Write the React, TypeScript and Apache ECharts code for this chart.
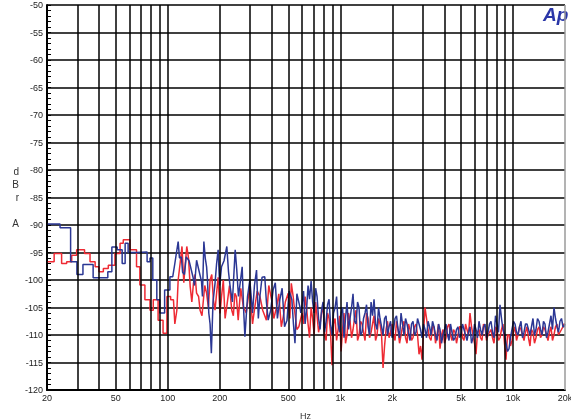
import React, { useEffect, useRef } from "react";
import * as echarts from "echarts";

// ---- axis definitions ----
const yMin = -120;
const yMax = -50;
const yStep = 5;
const gridFreqs = [20, 30, 40, 50, 60, 70, 80, 90, 100, 200, 300, 400, 500, 600, 700, 800, 900, 1000, 2000, 3000, 4000, 5000, 6000, 7000, 8000, 9000, 10000, 20000];
const labelFreqs = [20, 50, 100, 200, 500, 1000, 2000, 5000, 10000, 20000];
const labelTexts = ["20", "50", "100", "200", "500", "1k", "2k", "5k", "10k", "20k"];

// ---- low / mid-frequency parts (Hz, dBr A) ----
const redLow: [number, number][] = [
  [20, -96.7], [22, -96.7], [22, -95.2], [24.3, -95.2], [24.3, -97], [26, -97], [26, -96.7], [27.8, -96.7],
  [27.8, -95.5], [29.7, -95.5], [29.7, -94.5], [33, -94.5], [33, -95.2], [35.5, -95.2], [35.5, -96.7], [38, -96.7],
  [38, -97.6], [40, -97.6], [40, -98.5], [42.4, -98.5], [42.4, -97.9], [45.3, -97.9], [45.3, -97.3], [49.5, -97.3],
  [49.5, -95.2], [53, -95.2], [53, -93.3], [55.3, -93.3], [55.3, -92.7], [60.5, -92.7], [60.5, -94.5], [66, -94.5],
  [66, -97.6], [69, -97.6], [69, -100.9], [73.8, -100.9], [73.8, -103.6], [79, -103.6], [79, -105.5], [82.5, -105.5],
  [82.5, -103.6], [88, -103.6], [88, -107.3], [94, -107.3], [94, -109.7], [99, -109.7], [99, -103], [104, -103],
  [104, -103.6], [108, -103.6]
];
const redMid: [number, number][] = [
  [110, -108], [113, -105.5], [115, -100], [118, -97], [121, -93.9], [124, -100.5], [126, -97.6], [129, -93.9],
  [132, -96], [135, -101.2], [138, -104], [141, -100.6], [144, -99], [147, -102.4], [151, -103], [154, -105.5],
  [158, -106.5], [161, -103.6], [164, -101], [168, -102.4], [172, -105], [176, -100], [180, -99], [184, -103.6],
  [188, -105.5], [192, -102.4], [196, -99.5], [201, -106.1], [205, -103], [210, -100], [215, -107], [220, -104.8],
  [228, -101], [235, -105.5], [240, -106.5], [245, -102.4], [250, -103], [256, -107.3], [265, -101.5], [274, -104.8],
  [285, -106], [292, -103.5], [299, -101.2], [310, -108], [320, -104.8], [330, -102], [342, -103], [355, -105.5],
  [373, -107.3], [385, -101], [400, -103.6], [412, -107], [428, -104.8], [440, -102.5], [455, -108.5], [467, -106.7],
  [480, -104], [499, -102.4], [510, -107], [520, -100.6], [533, -103], [546, -106.1], [560, -109], [575, -108.5]
];

const blueLow: [number, number][] = [
  [20, -89.8], [23.8, -89.8], [23.8, -90.5], [27.4, -90.5], [27.4, -96.7], [29.8, -96.7], [29.8, -99], [32.3, -99],
  [32.3, -97.2], [37, -97.2], [37, -99.6], [45, -99.6], [45, -98.5], [47.5, -98.5], [47.5, -94], [51, -94],
  [51, -94.5], [54.5, -94.5], [54.5, -97], [56.7, -97], [56.7, -93.3], [59, -93.3], [59, -95], [66, -95],
  [66, -94.9], [76, -94.9], [76, -96.7], [79, -96.7], [79, -96], [82, -96], [82, -100], [86.5, -100],
  [86.5, -103.6], [90, -103.6], [90, -106], [96, -106], [96, -101.8], [103, -101.8], [103, -99.4], [107, -99.4]
];
const blueMid: [number, number][] = [
  [110, -97], [115, -93], [117, -96], [120, -95.8], [122, -98.6], [125, -99], [128, -95.8], [133, -96.5],
  [140, -99.4], [143, -101], [147, -96.4], [151, -98], [157, -100.3], [159, -103], [162, -93], [165, -96],
  [168, -97.6], [170, -100], [173, -106], [176, -108], [179, -113.3], [183, -104], [188, -100.6], [192, -97],
  [196, -94.5], [200, -101], [205, -97.6], [212, -96.5], [220, -93.9], [225, -98.5], [230, -101.2], [237, -104],
  [246, -94.5], [251, -98], [257, -103], [263, -100.5], [270, -97.6], [275, -105], [280, -110.3], [290, -103],
  [299, -100], [310, -106], [318, -101], [327, -98.2], [335, -107], [342, -103], [352, -99.5], [365, -99.4],
  [373, -104], [382, -107.3], [395, -105.5], [408, -101.8], [420, -100.5], [432, -107], [446, -103.6], [460, -101.5],
  [475, -108.5], [491, -107.3], [505, -102], [524, -103.6], [535, -108], [546, -111.5], [560, -102.5], [583, -104.9],
  [590, -106]
];

// ---- high-frequency part (two interleaved sets of bins) ----
const hiFreqsA = [
  600, 625, 650, 677, 705, 733, 763, 794, 827, 860, 895, 932, 970, 1010, 1050, 1093, 1138, 1184, 1233, 1283,
  1335, 1390, 1447, 1506, 1567, 1631, 1697, 1767, 1839, 1914, 1992, 2073, 2158, 2246, 2337, 2433, 2532, 2635,
  2743, 2855, 2971, 3093, 3219, 3350, 3487, 3629, 3777, 3931, 4092, 4259, 4432, 4613, 4801, 4997, 5201, 5413,
  5634, 5864, 6104, 6353, 6612, 6882, 7163, 7455, 7759, 8076, 8405, 8748, 9105, 9477, 9863, 10266, 10685, 11121,
  11575, 12047, 12539, 13050, 13583, 14137, 14714, 15314, 15939, 16590, 17266, 17971, 18704, 19467, 20000
];
const hiFreqsB = [
  612, 637, 663, 691, 719, 748, 778, 810, 843, 877, 913, 951, 990, 1030, 1071, 1115, 1161, 1208, 1258, 1309,
  1362, 1418, 1476, 1536, 1599, 1664, 1732, 1803, 1876, 1953, 2032, 2115, 2202, 2291, 2385, 2482, 2583, 2689,
  2799, 2913, 3032, 3156, 3284, 3418, 3558, 3703, 3854, 4011, 4175, 4345, 4522, 4707, 4899, 5099, 5307, 5523,
  5749, 5983, 6227, 6482, 6746, 7022, 7308, 7606, 7916, 8239, 8575, 8925, 9290, 9669, 10063, 10474, 10902, 11347,
  11810, 12292, 12794, 13315, 13859, 14424, 15012, 15625, 16262, 16926, 17617, 18335, 19083, 19733
];

const blueHiA = [
  -104.5, -108, -101, -100.2, -106, -103, -109, -104, -107.5, -103.5, -110, -105, -108, -106, -110.5, -104, -107, -102.5, -108, -105,
  -109.5, -106, -108.5, -104, -103.5, -109, -107, -110, -106.5, -108.5, -110.5, -107, -109, -106, -110, -108, -111, -107.5,
  -109.5, -108, -110.5, -109, -107.5, -110, -108.5, -111, -109, -110, -108, -111, -109.5, -110.5, -108.5, -110, -109, -111,
  -108.5, -110.5, -109, -107.5, -110, -108, -109.5, -107.5, -110.5, -108, -104.5, -109, -111.5, -112.5, -109, -108, -110, -107.5,
  -109.5, -108, -110, -107, -109, -107.5, -110, -108, -109.5, -106.5, -105, -108.5, -107.5, -108.5, -108
];
const blueHiB = [
  -102, -105.5, -103.5, -104, -101.5, -107, -105.5, -109.5, -104.5, -108, -106, -103, -109.5, -105, -107, -109, -105, -107.5, -104, -110,
  -107, -104.5, -110, -106.5, -108, -105, -108.5, -107, -110, -107.5, -109, -106.5, -110.5, -108, -107, -109.5, -108, -110,
  -107, -109, -108, -110.5, -108.5, -107.5, -110, -108, -111.5, -109, -110, -108, -111, -109, -110.5, -108, -110, -109.5,
  -111.5, -108, -110.5, -109, -108.5, -110.5, -108, -109.5, -106.5, -109.5, -107, -110, -113, -110.5, -107.5, -109.5, -108.5, -110.5,
  -108, -109, -108.5, -110, -107, -109, -107.5, -110.5, -108, -109, -107, -109.5, -107, -108.5
];

const redHiA = [
  -106, -103, -108, -105, -110, -106.5, -108, -104.5, -111, -107, -115.5, -107, -109, -113, -106, -110, -107.5, -109, -105.5, -110,
  -108, -111, -107, -109.5, -106.5, -110, -108, -116, -109, -110.5, -108, -111, -109, -110, -107.5, -111.5, -109, -110.5,
  -108, -113.5, -114.5, -105, -109, -111, -108.5, -110, -112.5, -109, -110.5, -108, -111, -109.5, -110, -108.5, -111, -109,
  -106, -110, -113.5, -109, -111, -108.5, -110, -109, -111.5, -109, -110.5, -108, -114.5, -110, -111, -108.5, -110, -109,
  -111, -108.5, -112, -109.5, -110.5, -108.5, -110, -109, -111, -108.5, -110, -108, -109.5, -108.5, -108
];
const redHiB = [
  -108, -105, -110.5, -107, -104, -109.5, -106, -110, -106, -109.5, -108, -111, -106.5, -109, -111.5, -106, -110.5, -107, -111, -107.5,
  -109.5, -106, -110.5, -108, -111, -107, -110, -112, -107.5, -109.5, -110, -107.5, -111.5, -108.5, -110.5, -108, -111, -108.5,
  -110, -112, -109.5, -107, -110.5, -108.5, -111.5, -108, -110, -111.5, -108.5, -110, -109, -111.5, -108.5, -110.5, -108, -110,
  -108.5, -111.5, -109.5, -110.5, -108, -111, -109.5, -110.5, -108.5, -111, -109, -111.5, -110, -112, -109.5, -111, -108.5, -110,
  -109.5, -110.5, -109, -111.5, -109, -110.5, -108.5, -110, -109.5, -111, -108.5, -110, -109, -108
];

const redColor = "#ee2a33";
const blueColor = "#2b3794";
const FONT = "Liberation Sans, Arial, sans-serif";

function buildSeries(
  low: [number, number][],
  mid: [number, number][],
  fa: number[],
  va: number[],
  fb: number[],
  vb: number[]
) {
  const rest: [number, number][] = [
    ...mid,
    ...fa.map((f, i) => [f, va[i]] as [number, number]),
    ...fb.map((f, i) => [f, vb[i]] as [number, number]),
  ].sort((a, b) => a[0] - b[0]);
  return [...low, ...rest];
}

export default function App() {
  const ref = useRef<HTMLDivElement>(null);
  useEffect(() => {
    if (!ref.current) return;
    const chart = echarts.init(ref.current, null, { renderer: "svg" });
    const redData = buildSeries(redLow, redMid, hiFreqsA, redHiA, hiFreqsB, redHiB);
    const blueData = buildSeries(blueLow, blueMid, hiFreqsA, blueHiA, hiFreqsB, blueHiB);
    const markData = gridFreqs.map((f) => {
      const li = labelFreqs.indexOf(f);
      return {
        xAxis: f,
        lineStyle: { color: f === 20000 ? "#9a9a9a" : "#000", width: 1.5, type: "solid" },
        label: {
          show: li >= 0,
          position: "start",
          formatter: li >= 0 ? labelTexts[li] : "",
          fontSize: 9,
          color: "#222",
          fontFamily: FONT,
          distance: 3,
        },
      };
    });
    chart.setOption({
      animation: false,
      grid: { left: 47, right: 6, top: 5, bottom: 30, containLabel: false, outerBoundsMode: "none" },
      xAxis: {
        type: "log",
        logBase: 10,
        min: 20,
        max: 20000,
        axisLine: { show: true, lineStyle: { color: "#000", width: 2 } },
        axisTick: { show: false },
        minorTick: { show: false },
        axisLabel: { show: false },
        splitLine: { show: false },
        minorSplitLine: { show: false },
      },
      yAxis: {
        type: "value",
        min: yMin,
        max: yMax,
        interval: yStep,
        axisLine: { show: true, lineStyle: { color: "#000", width: 2 } },
        axisTick: { show: true, inside: true, length: 4, lineStyle: { color: "#000" } },
        minorTick: { show: true, splitNumber: 5, length: 4, lineStyle: { color: "#000" } },
        splitLine: { show: true, lineStyle: { color: "#000", width: 1.5 } },
        axisLabel: { fontSize: 9, color: "#222", margin: 4, fontFamily: FONT },
        name: "d\nB\nr\n\nA",
        nameLocation: "middle",
        nameRotate: 0,
        nameGap: 28,
        nameTextStyle: { fontSize: 10, lineHeight: 13, color: "#333", fontFamily: FONT },
      },
      graphic: [
        {
          type: "text",
          left: 543,
          top: 5,
          style: {
            text: "Ap",
            fontSize: 19,
            fontWeight: "bold",
            fontStyle: "italic",
            fill: "#2a36a8",
            fontFamily: FONT,
          },
        },
        {
          type: "text",
          left: 300,
          top: 411,
          style: { text: "Hz", fontSize: 9, fill: "#333", fontFamily: FONT },
        },
      ],
      series: [
        {
          type: "line",
          data: [],
          silent: true,
          z: 1,
          markLine: { silent: true, symbol: "none", animation: false, data: markData },
        },
        {
          type: "line",
          data: redData,
          showSymbol: false,
          symbol: "none",
          z: 3,
          lineStyle: { color: redColor, width: 1.5 },
        },
        {
          type: "line",
          data: blueData,
          showSymbol: false,
          symbol: "none",
          z: 4,
          lineStyle: { color: blueColor, width: 1.5 },
        },
      ],
    });
    return () => chart.dispose();
  }, []);
  return <div ref={ref} style={{ position: "fixed", left: 0, top: 0, width: 571, height: 420 }} />;
}
